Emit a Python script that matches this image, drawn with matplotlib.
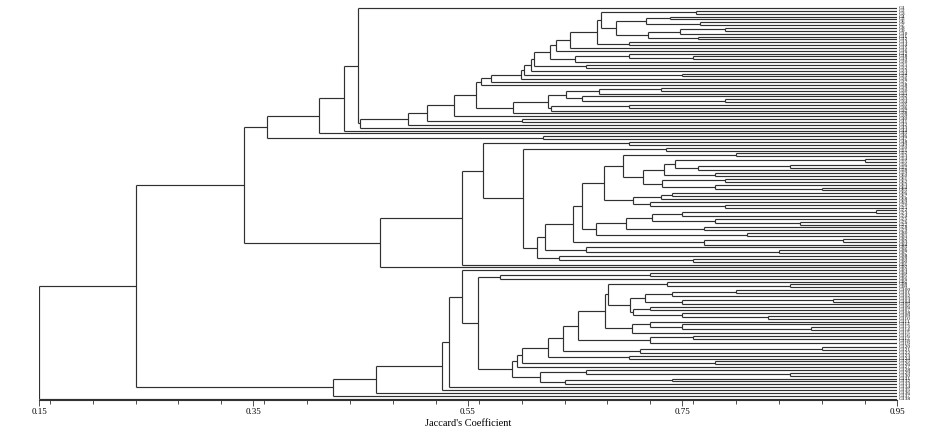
import re
import matplotlib
matplotlib.use("Agg")
import matplotlib.pyplot as plt
from matplotlib.ticker import MultipleLocator, FixedLocator

# ---- data: dendrogram topology (Newick snippets) with merge similarities ----
# {name} refers to another named sub-cluster, L is a leaf
top_nodes = {
    "T": "({T1},(L,L)0.62)0.363",
    "T1": "({T2},L)0.411",
    "T2": "({T3},L)0.434",
    "T3": "(L,{T4})0.447",
    "T4": "({T408},L)0.449",
    "T408": "({T427},L)0.494",
    "T427": "({T454},(L,L)0.60)0.512",
    "T454": "({T476},L)0.537",
    "T476": "({T481},{T513})0.5575",
    "T481": "({T491},L)0.562",
    "T491": "({T521},L)0.571",
    "T521": "({T524},L)0.599",
    "T524": "({T531},(L,L)0.75)0.602",
    "T531": "({T534},L)0.609",
    "T534": "({T549},(L,L)0.66)0.612",
    "T549": "({T556},((L,(L,L)0.76)0.70,L)0.650)0.626",
    "T556": "({T570},L)0.632",
    "T570": "({T597},L)0.645",
    "T597": "({T601},(L,L)0.70)0.670",
    "T601": "((L,L)0.763,{T616})0.674",
    "T616": "(((L,L)0.738,(L,L)0.766)0.716,(((L,L)0.79,L)0.748,(L,L)0.764)0.718)0.688",
    "T513": "(((((L,L)0.73,L)0.672,(L,(L,L)0.79)0.656)0.641,((L,L)0.70,L)0.627)0.625,L)0.592",
}
middle_nodes = {
    "M": "({M463},L)0.468",
    "M463": "({M483},L)0.544",
    "M483": "((L,L)0.70,{M523})0.564",
    "M523": "((L,L)0.735,{M537})0.601",
    "M537": "({M545},(L,(L,L)0.76)0.635)0.614",
    "M545": "({M573},(L,(L,L)0.84)0.66)0.622",
    "M573": "({M582},((L,L)0.90,L)0.77)0.648",
    "M582": "({M604},{M596})0.656",
    "M604": "({M623},{M633})0.677",
    "M623": "((L,L)0.80,{M643})0.6945",
    "M643": "({M664},{M662})0.713",
    "M664": "({M675},(L,L)0.78)0.733",
    "M675": "((L,L)0.92,((L,L)0.85,L)0.764)0.743",
    "M662": "((L,L)0.79,(L,(L,L)0.88)0.78)0.731",
    "M633": "(((L,L)0.74,L)0.73,(L,(L,L)0.79)0.72)0.704",
    "M596": "({M626},(L,L)0.81)0.669",
    "M626": "({M652},(L,L)0.77)0.697",
    "M652": "(((L,L)0.93,L)0.75,(L,(L,L)0.86)0.78)0.722",
}
bottom_nodes = {
    "B": "({B376},L)0.424",
    "B376": "({B442},L)0.464",
    "B442": "({B456},L)0.526",
    "B456": "({B462},L)0.532",
    "B462": "(L,{B478})0.544",
    "B478": "({B500},{B512})0.559",
    "B500": "((L,L)0.72,L)0.580",
    "B512": "({B517},{B540})0.591",
    "B517": "({B522},L)0.5957",
    "B522": "({B548},(L,L)0.78)0.600",
    "B548": "({B563},(L,L)0.70)0.625",
    "B563": "({B578},((L,L)0.88,L)0.71)0.639",
    "B578": "({B597},((L,L)0.76,(L,L)0.95)0.72)0.653",
    "B597": "({B608},((L,(L,(L,L)0.87)0.75)0.72,L)0.703)0.678",
    "B608": "((L,(L,L)0.85)0.736,{B630})0.681",
    "B630": "({B645},{B633})0.701",
    "B645": "(((L,L)0.80,L)0.74,((L,L)0.89,L)0.75)0.715",
    "B633": "((L,L)0.72,(L,(L,L)0.83)0.75)0.704",
    "B540": "((L,(L,L)0.85)0.66,((L,L)0.74,L)0.64)0.617",
}
root_tree = "((({T},{M})0.3411,{B})0.2404,L)0.15"

x_ticks = [0.15, 0.35, 0.55, 0.75, 0.95]
x_label = "Jaccard's Coefficient"
leaf_level = 0.95

all_nodes = {**top_nodes, **middle_nodes, **bottom_nodes}


def expand(s):
    while "{" in s:
        s = re.sub(r"\{(\w+)\}", lambda m: all_nodes[m.group(1)], s)
    return s


def parse(s):
    s = re.sub(r"\s+", "", s)
    pos = 0

    def node():
        nonlocal pos
        if s[pos] == "(":
            pos += 1
            kids = [node()]
            while s[pos] == ",":
                pos += 1
                kids.append(node())
            assert s[pos] == ")", (pos, s[pos - 10:pos + 10])
            pos += 1
            m = re.match(r"[0-9.]+", s[pos:])
            pos += len(m.group())
            return (float(m.group()), kids)
        assert s[pos] == "L"
        pos += 1
        return None

    return node()


tree = parse(expand(root_tree))

fig = plt.figure(figsize=(9.37, 4.37), dpi=100)
ax = fig.add_axes([39 / 937, (437 - 400) / 437, 858 / 937, 395 / 437])

col = "#303030"
lw = 0.85
counter = [0]
leaf_ys = []


def draw(n):
    if n is None:
        y = counter[0]
        counter[0] += 1
        leaf_ys.append(y)
        return leaf_level, y
    h, kids = n
    pts = [draw(k) for k in kids]
    ys = [p[1] for p in pts]
    for (cx, cy) in pts:
        ax.plot([h, cx], [cy, cy], color=col, lw=lw, solid_capstyle="butt")
    ax.plot([h, h], [min(ys), max(ys)], color=col, lw=lw, solid_capstyle="butt")
    return h, (ys[0] + ys[-1]) / 2


draw(tree)
N = counter[0]
labels = ["G%d" % (i + 1) for i in range(N)]

unit = 390.5 / (N - 1)
ax.set_ylim(N - 1 + 1.5 / unit, -3.0 / unit)
ax.set_xlim(0.15, 0.95)

for y, lab in zip(leaf_ys, labels):
    ax.text(0.9512, y, lab, fontsize=3.9, va="center", ha="left",
            family="Liberation Serif", color="#000000", clip_on=False)

for side in ["top", "right", "left"]:
    ax.spines[side].set_visible(False)
ax.spines["bottom"].set_color("#333333")
ax.spines["bottom"].set_linewidth(0.8)
ax.set_yticks([])
ax.xaxis.set_major_locator(FixedLocator(x_ticks))
ax.xaxis.set_minor_locator(MultipleLocator(0.04))
ax.set_xticklabels([f"{t:.2f}" for t in x_ticks])
ax.tick_params(axis="x", which="major", length=4, width=0.6, color="#333333",
               labelsize=6.5, pad=2)
ax.tick_params(axis="x", which="minor", length=3, width=0.6, color="#333333")
for t in ax.get_xticklabels():
    t.set_family("Liberation Serif")
ax.set_xlabel(x_label, fontsize=7.5, family="Liberation Serif", labelpad=2)

fig.savefig("out.png", dpi=100)
